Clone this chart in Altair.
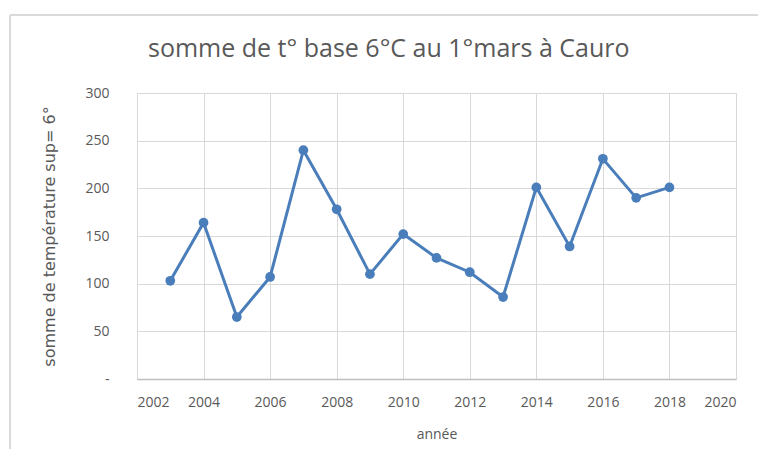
import altair as alt
import pandas as pd

years = [2003, 2004, 2005, 2006, 2007, 2008, 2009, 2010, 2011, 2012, 2013, 2014, 2015, 2016, 2017, 2018]
values = [103, 164, 65, 107, 240, 178, 110, 152, 127, 112, 86, 201, 139, 231, 190, 201]

df = pd.DataFrame({"annee": years, "somme": values})

FONT = "Open Sans"
GREY = "#595959"
BLUE = "#4a7ebb"

x = alt.X("annee:Q", title="année",
          scale=alt.Scale(domain=[2002, 2020], nice=False, zero=False),
          axis=alt.Axis(values=list(range(2002, 2021, 2)), format="d",
                        grid=True, gridColor="#d9d9d9", ticks=False,
                        domainColor="#bfbfbf", domainWidth=1.5,
                        labelPadding=16, labelFontSize=14, labelColor=GREY,
                        titleFontSize=14, titleColor=GREY, titleFontWeight="normal",
                        titlePadding=18, labelFont=FONT, titleFont=FONT))
y = alt.Y("somme:Q", title="somme de température  sup= 6°",
          scale=alt.Scale(domain=[0, 300], nice=False),
          axis=alt.Axis(values=[0, 50, 100, 150, 200, 250, 300],
                        labelExpr="datum.value == 0 ? '-' : datum.label",
                        grid=True, gridColor="#d9d9d9", ticks=False, domain=False,
                        labelPadding=28, labelFontSize=14, labelColor=GREY,
                        titleFontSize=16, titleColor=GREY, titleFontWeight="normal",
                        titlePadding=27, labelFont=FONT, titleFont="DejaVu Sans"))

line = alt.Chart(df).mark_line(color=BLUE, strokeWidth=3).encode(x=x, y=y)
pts = alt.Chart(df).mark_circle(color=BLUE, size=95, opacity=1).encode(x=x, y=y)

frame = alt.Chart(df).mark_rect(fill=None, stroke="#d9d9d9", strokeWidth=1, clip=False).encode(
    x=alt.value(-127), x2=alt.value(660), y=alt.value(-78), y2=alt.value(420))

chart = alt.layer(frame, line, pts).properties(
    width=599, height=286,
    title=alt.TitleParams("somme de t° base 6°C au 1°mars à Cauro", anchor="start",
                          frame="group", dx=11, fontSize=25, font=FONT, color=GREY,
                          fontWeight="normal", baseline="alphabetic", offset=-67),
    padding={"left": 129, "top": 85, "right": 22, "bottom": 70},
    autosize=alt.AutoSizeParams(type="none"),
).configure_view(stroke=None).configure(background="white")

chart.save("out.html", embed_options={"renderer": "svg", "actions": False})
